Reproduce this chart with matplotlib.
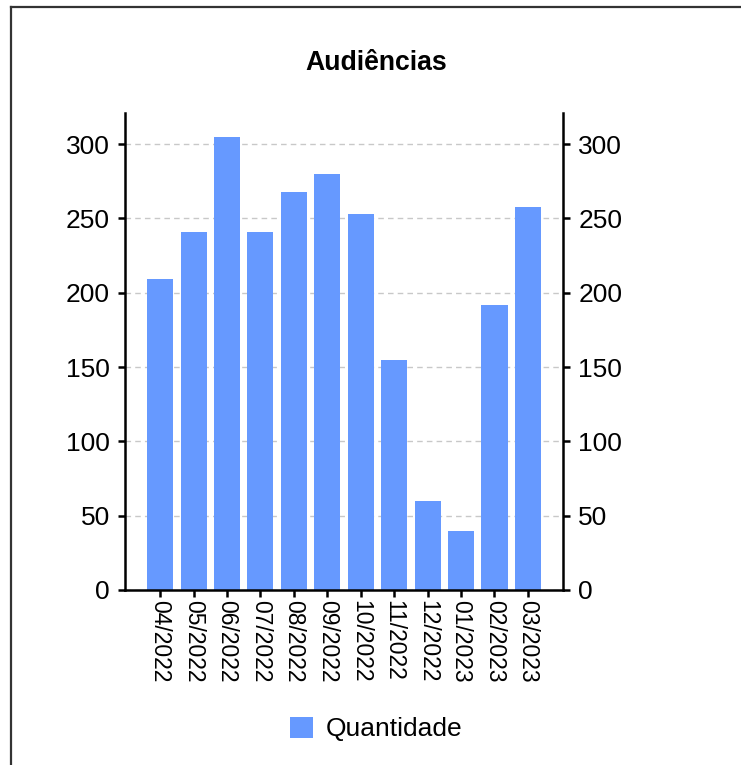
import matplotlib
matplotlib.use("Agg")
import matplotlib.pyplot as plt
from matplotlib.lines import Line2D
from matplotlib.patches import Patch

plt.rcParams['font.family'] = ['Liberation Sans', 'DejaVu Sans']

# dados
meses = ["04/2022", "05/2022", "06/2022", "07/2022", "08/2022", "09/2022",
         "10/2022", "11/2022", "12/2022", "01/2023", "02/2023", "03/2023"]
quantidade = [209, 241, 305, 241, 268, 280, 253, 155, 60, 40, 192, 258]
yticks = [0, 50, 100, 150, 200, 250, 300]

COR = "#6699FF"

fig = plt.figure(figsize=(7.41, 7.65), dpi=100)
ax = fig.add_axes([0.1687, 0.2288, 0.5911, 0.6235])

x = list(range(len(meses)))
ax.bar(x, quantidade, width=0.78, color=COR, zorder=2)

ax.set_xlim(-1.05, len(meses) - 1 + 1.05)
ax.set_ylim(0, 321)
ax.set_yticks(yticks)
ax.set_xticks(x)
ax.set_xticklabels(meses, rotation=270, fontsize=16.5)

ax.yaxis.grid(True, linestyle=(0, (4, 3)), color="#c8c8c8", linewidth=1, zorder=0)
ax.set_axisbelow(True)

ax.spines['top'].set_visible(False)
for s in ['left', 'right', 'bottom']:
    ax.spines[s].set_linewidth(1.8)
    ax.spines[s].set_color('black')

ax.tick_params(axis='y', left=True, right=True, labelleft=True, labelright=True,
               direction='out', length=5, width=1.8, labelsize=19, pad=6)
ax.tick_params(axis='x', direction='out', length=5, width=1.8, pad=2)

fig.text(0.508, 0.918, "Audiências", ha='center', va='center',
         fontsize=19.2, fontweight='bold')

fig.legend(handles=[Patch(facecolor=COR, edgecolor='none', label='Quantidade')],
           loc='center', bbox_to_anchor=(0.508, 0.047), frameon=False,
           fontsize=19, handlelength=0.85, handleheight=0.85, handletextpad=0.5)

# borda (esquerda e topo)
fig.add_artist(Line2D([0.0148, 0.0148], [0, 0.991], transform=fig.transFigure,
                      color='#333333', linewidth=1.6))
fig.add_artist(Line2D([0.0148, 1], [0.991, 0.991], transform=fig.transFigure,
                      color='#333333', linewidth=1.6))

plt.savefig("out.png", dpi=100)
